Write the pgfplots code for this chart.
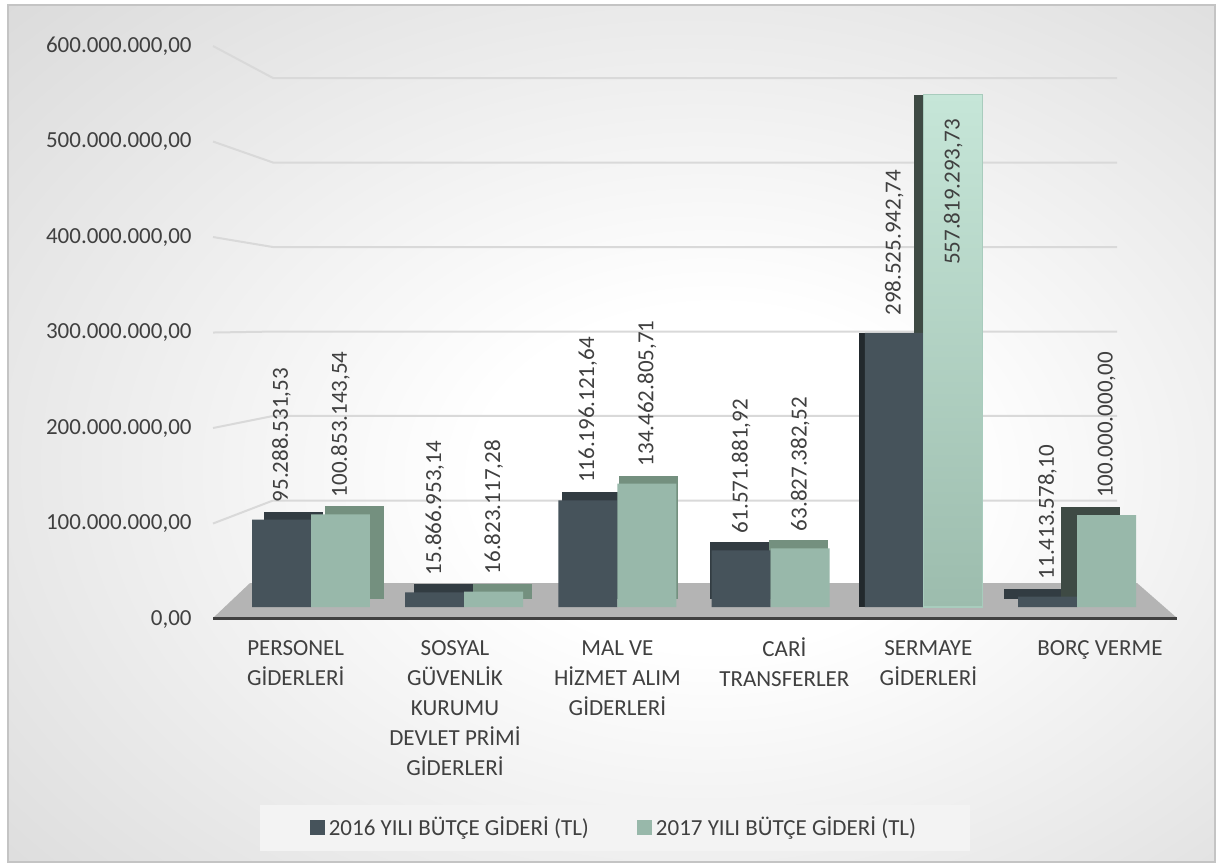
\documentclass[border=0pt]{standalone}
\usepackage{pgfplots}
\pgfplotsset{compat=1.18}
\usepackage{fontspec}
\setmainfont{Carlito}
\definecolor{c16}{HTML}{46535B}
\definecolor{c16top}{HTML}{323C42}
\definecolor{c16side}{HTML}{22292D}
\definecolor{c17}{HTML}{98B8AA}
\definecolor{c17top}{HTML}{74907F}
\definecolor{c17side}{HTML}{3E4A44}
\definecolor{c17hi}{HTML}{C6E6D8}
\definecolor{c17lo}{HTML}{9CBCAD}
\definecolor{c17bd}{HTML}{A8CCBD}
\definecolor{txt}{HTML}{404040}
\definecolor{gridc}{HTML}{D9D9D9}
\definecolor{floorc}{HTML}{B4B4B4}
\definecolor{bord}{HTML}{C4C4C4}
\definecolor{legbg}{HTML}{F3F3F3}
\pgfdeclareradialshading{bgshade}{\pgfpoint{5bp}{-3bp}}{color(0bp)=(white); color(10bp)=(white); color(40bp)=(black!15); color(55bp)=(black!22); color(75bp)=(black!27)}
\newcommand{\lbl}{\fontsize{11.5bp}{15bp}\selectfont}
\begin{document}
\lbl
\begin{tikzpicture}
\begin{scope}[x=0.5bp,y=-0.5bp]
\useasboundingbox (0,0) rectangle (1219,864);
\fill[white] (0,0) rectangle (1219,864);
\shade[shading=bgshade] (8,5) rectangle (1215,862);
\draw[bord, line width=0.8bp] (8,5) rectangle (1215,862);
\end{scope}
% ---------- back wall, floor and value labels ----------
\begin{axis}[
  at={(106.5bp,-309.5bp)}, anchor=south west, scale only axis,
  width=482bp, height=286.5bp,
  xmin=213, xmax=1177, ymin=0, ymax=600,
  axis line style={draw=none}, major tick length=0pt,
  xtick=\empty, ytick={0,100,200,300,400,500,600},
  yticklabels={{0,00}, {100.000.000,00}, {200.000.000,00}, {300.000.000,00}, {400.000.000,00}, {500.000.000,00}, {600.000.000,00}},
  yticklabel style={anchor=east, inner sep=0pt, xshift=-10.5bp, text=txt, font=\lbl},
  clip=false]
\addplot[fill=floorc, draw=none] coordinates {(213,1.05) (250,37.7) (1137,37.7) (1177,1.05)} -- cycle;
\addplot[gridc, line width=1bp] coordinates {(213,100) (273,124.1) (1117,124.1)};
\addplot[gridc, line width=1bp] coordinates {(213,200) (273,212.6) (1117,212.6)};
\addplot[gridc, line width=1bp] coordinates {(213,300) (273,301.0) (1117,301.0)};
\addplot[gridc, line width=1bp] coordinates {(213,400) (273,389.5) (1117,389.5)};
\addplot[gridc, line width=1bp] coordinates {(213,500) (273,478.0) (1117,478.0)};
\addplot[gridc, line width=1bp] coordinates {(213,600) (273,566.5) (1117,566.5)};
\addplot[txt, line width=1.5bp] coordinates {(213,1.05) (1177,1.05)};
\end{axis}
% ---------- bars ----------
\begin{axis}[
  at={(117.2bp,-303.5bp)}, anchor=south west, scale only axis,
  width=459.6bp, height=275.5bp,
  xmin=-0.5, xmax=5.5, ymin=0, ymax=600,
  axis line style={draw=none}, major tick length=0pt,
  ytick=\empty,
  xtick={-0.1,0.94,2,3.09,4.03,5.15},
  xticklabels={{\rule{0pt}{9bp}PERSONEL\\GİDERLERİ},{\rule{0pt}{9bp}SOSYAL\\GÜVENLİK\\KURUMU\\DEVLET PRİMİ\\GİDERLERİ},{\rule{0pt}{9bp}MAL VE\\HİZMET ALIM\\GİDERLERİ},{\rule{0pt}{9bp}CARİ\\TRANSFERLER},{\rule{0pt}{9bp}SERMAYE\\GİDERLERİ},{\rule{0pt}{9bp}BORÇ VERME}},
  xticklabel style={align=center, anchor=north, inner sep=0pt, yshift=-15bp, text=txt, font=\lbl},
  clip=false,
  legend columns=2,
  legend style={at={(0.414,-0.401)}, anchor=center, draw=none, fill=legbg,
    inner xsep=25bp, inner ysep=4bp, font=\lbl, text=txt,
    /tikz/every even column/.append style={column sep=22bp}},
  legend image code/.code={\fill[#1] (0bp,-3.4bp) rectangle (7.5bp,4.1bp);},
  nodes near coords style={rotate=90, anchor=west, inner xsep=8.5bp, inner ysep=0pt, text=txt, font=\lbl},
  ]
% depth (top / side faces)
\addplot[ybar, bar width=0.385, bar shift=0, fill=c16top, draw=none, forget plot, xshift=6bp, yshift=4bp] coordinates {(-0.1925,95.2885)};
\addplot[ybar, bar width=0.385, bar shift=0, fill=c17top, draw=none, forget plot, xshift=7bp, yshift=4bp] coordinates {(0.1925,100.8531)};
\addplot[ybar, bar width=0.385, bar shift=0, fill=c16top, draw=none, forget plot, xshift=4.5bp, yshift=4bp] coordinates {(0.8075,15.8670)};
\addplot[ybar, bar width=0.385, bar shift=0, fill=c17top, draw=none, forget plot, xshift=4.5bp, yshift=4bp] coordinates {(1.1925,16.8231)};
\addplot[ybar, bar width=0.385, bar shift=0, fill=c16top, draw=none, forget plot, xshift=2bp, yshift=4bp] coordinates {(1.8075,116.1961)};
\addplot[ybar, bar width=0.385, bar shift=0, fill=c17top, draw=none, forget plot, xshift=1bp, yshift=4bp] coordinates {(2.1925,134.4628)};
\addplot[ybar, bar width=0.385, bar shift=0, fill=c16top, draw=none, forget plot, xshift=-1bp, yshift=4bp] coordinates {(2.8075,61.5719)};
\addplot[ybar, bar width=0.385, bar shift=0, fill=c17top, draw=none, forget plot, xshift=-1bp, yshift=4bp] coordinates {(3.1925,63.8274)};
\addplot[ybar, bar width=0.385, bar shift=0, fill=c16side, draw=none, forget plot, xshift=-3bp, yshift=0bp] coordinates {(3.8075,298.5259)};
\addplot[ybar, bar width=0.385, bar shift=0, fill=c17side, draw=none, forget plot, xshift=-5bp, yshift=0bp] coordinates {(4.1925,557.8193)};
\addplot[ybar, bar width=0.385, bar shift=0, fill=c16top, draw=none, forget plot, xshift=-7bp, yshift=4bp] coordinates {(4.8075,11.4136)};
\addplot[ybar, bar width=0.385, bar shift=0, fill=c17side, draw=none, forget plot, xshift=-8bp, yshift=4bp] coordinates {(5.1925,100.0000)};
% front faces
\addplot[ybar, bar width=0.385, bar shift=0, fill=c16, draw=none,
  nodes near coords={\pgfplotspointmeta}, point meta=explicit symbolic]
  table[meta=lab] {
x y lab
-0.1925 95.2885 95.288.531,53
0.8075 15.8670 15.866.953,14
1.8075 116.1961 116.196.121,64
2.8075 61.5719 61.571.881,92
3.8075 298.5259 298.525.942,74
4.8075 11.4136 11.413.578,10
};
\addlegendentry{2016 YILI BÜTÇE GİDERİ (TL)}
\addplot[ybar, bar width=0.385, bar shift=0, fill=c17, draw=none,
  nodes near coords={\pgfplotspointmeta}, point meta=explicit symbolic]
  table[meta=lab] {
x y lab
0.1925 100.8531 100.853.143,54
1.1925 16.8231 16.823.117,28
2.1925 134.4628 134.462.805,71
3.1925 63.8274 63.827.382,52
5.1925 100.0000 100.000.000,00
};
\addlegendentry{2017 YILI BÜTÇE GİDERİ (TL)}
\addplot[ybar, bar width=0.385, bar shift=0, top color=c17hi, bottom color=c17lo, draw=c17bd, line width=0.6bp, forget plot,
  nodes near coords={\pgfplotspointmeta}, point meta=explicit symbolic,
  nodes near coords style={anchor=east, inner xsep=12bp}]
  table[meta=lab] {
x y lab
4.1925 557.8193 557.819.293,73
};
\end{axis}
\end{tikzpicture}
\end{document}
